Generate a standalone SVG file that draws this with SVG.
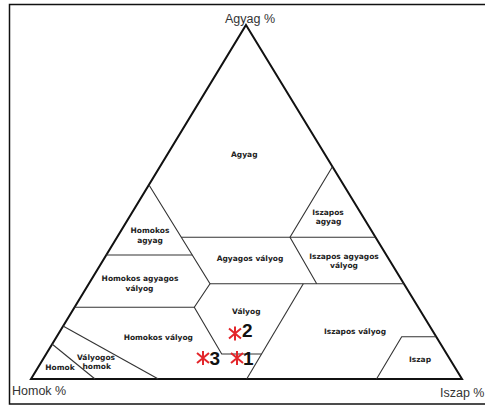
<svg xmlns="http://www.w3.org/2000/svg" width="485" height="405" viewBox="0 0 485 405">
<style>
.frame{fill:none;stroke:#111;stroke-width:1.5}
.tri{fill:none;stroke:#111;stroke-width:2;stroke-linejoin:miter}
.b{fill:none;stroke:#333;stroke-width:1.1}
.lbl{font-family:"DejaVu Sans",Verdana,sans-serif;font-weight:bold;font-size:7.5px;fill:#222;text-anchor:middle}
.ax{font-family:"Liberation Sans",Arial,sans-serif;font-size:12.5px;fill:#333}
.star{fill:none;stroke:#e3262b;stroke-width:2;stroke-linecap:butt}
.num{font-family:"Liberation Sans",Arial,sans-serif;font-weight:bold;font-size:19px;fill:#111}
</style>
<rect width="485" height="405" fill="#fff"/>
<rect class="frame" x="9.5" y="4.5" width="480" height="399.5"/>
<g id="axes">
  <polygon class="tri" points="246,25 462,379 31,379"/>
  <text class="ax" x="250" y="22.5" text-anchor="middle">Agyag %</text>
  <text class="ax" x="12" y="395">Homok %</text>
  <text class="ax" x="440" y="397">Iszap %</text>
</g>
<g id="connectors">
  <polyline class="b" points="149,185 210,283.7 194.3,307.3 221.7,354 261.5,354"/>
  <line class="b" x1="181.3" y1="237.3" x2="375.5" y2="237.3"/>
  <line class="b" x1="106" y1="255" x2="192.3" y2="255"/>
  <polyline class="b" points="332.4,166.7 290,237.3 316.7,283.7"/>
  <line class="b" x1="210" y1="283.7" x2="403.9" y2="283.7"/>
  <line class="b" x1="74.3" y1="307.3" x2="194.3" y2="307.3"/>
  <line class="b" x1="303.3" y1="283.7" x2="246.7" y2="379"/>
  <polyline class="b" points="376.5,379 401.7,336.7 436.2,336.7"/>
  <line class="b" x1="63" y1="326" x2="158.3" y2="379"/>
  <line class="b" x1="52" y1="344" x2="95" y2="379"/>
</g>
<g id="agyag"><text class="lbl" x="244.3" y="156.5">Agyag</text></g>
<g id="homokos-agyag"><text class="lbl" x="150" y="233.3">Homokos</text><text class="lbl" x="150" y="243">agyag</text></g>
<g id="iszapos-agyag"><text class="lbl" x="328" y="214.5">Iszapos</text><text class="lbl" x="328.5" y="224">agyag</text></g>
<g id="agyagos-valyog"><text class="lbl" x="250" y="261">Agyagos vályog</text></g>
<g id="iszapos-agyagos-valyog"><text class="lbl" x="344" y="258.7">Iszapos agyagos</text><text class="lbl" x="344" y="268.3">vályog</text></g>
<g id="homokos-agyagos-valyog"><text class="lbl" x="140" y="280.8">Homokos agyagos</text><text class="lbl" x="139.5" y="290.5">vályog</text></g>
<g id="valyog"><text class="lbl" x="246.3" y="313.5">Vályog</text></g>
<g id="homokos-valyog"><text class="lbl" x="158.3" y="339.5">Homokos vályog</text></g>
<g id="iszapos-valyog"><text class="lbl" x="355" y="334">Iszapos vályog</text></g>
<g id="iszap"><text class="lbl" x="420" y="362">Iszap</text></g>
<g id="valyogos-homok"><text class="lbl" x="96" y="359.5">Vályogos</text><text class="lbl" x="96.7" y="368.8">homok</text></g>
<g id="homok"><text class="lbl" x="60" y="370">Homok</text></g>
<g id="point-2">
  <path class="star" d="M235,326.5V340.5M229,328.5L241,338.5M229,338.5L241,328.5"/>
  <text class="num" x="242" y="337.3">2</text>
</g>
<g id="point-1">
  <path class="star" d="M237,351V365M231,353L243,363M231,363L243,353"/>
  <text class="num" x="243" y="365">1</text>
</g>
<g id="point-3">
  <path class="star" d="M203,351V365M197,353L209,363M197,363L209,353"/>
  <text class="num" x="209.5" y="365">3</text>
</g>
</svg>
